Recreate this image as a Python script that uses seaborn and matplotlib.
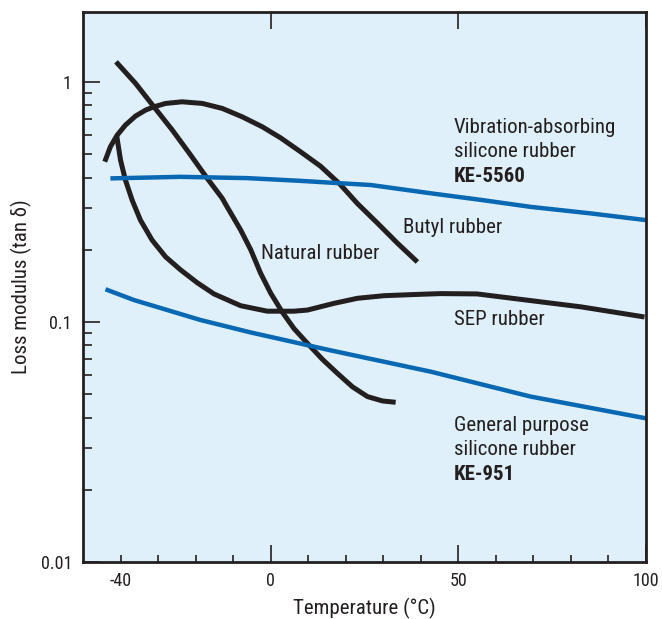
import os
import numpy as np
import pandas as pd
import seaborn as sns
import matplotlib
matplotlib.use("Agg")
import matplotlib.pyplot as plt
from matplotlib import font_manager
from matplotlib.ticker import FixedLocator, FuncFormatter, LogLocator, NullFormatter

# values: temperature (°C) and loss tangent
natural_t = [-41.2, -36.0, -31.1, -26.2, -21.3, -16.9, -12.9, -11.6, -8.0, -5.3, -2.7, 0.0, 3.1, 6.2,
             9.8, 13.8, 17.8, 21.8, 25.8, 29.8, 33.3]
natural_v = [1.215, 0.988, 0.789, 0.631, 0.496, 0.397, 0.328, 0.302, 0.242, 0.200, 0.160, 0.132, 0.110, 0.094,
             0.0815, 0.0699, 0.0611, 0.0537, 0.0489, 0.0469, 0.0463]

butyl_t = [-44.2, -42.7, -40.9, -38.7, -36.0, -33.3, -31.1, -28.0, -23.6, -18.2, -12.9, -7.6, -2.2,
           2.7, 8.0, 13.3, 18.5, 23.1, 28.5, 33.8, 39.1]
butyl_v = [0.466, 0.538, 0.601, 0.662, 0.722, 0.765, 0.789, 0.815, 0.828, 0.815, 0.777, 0.717, 0.651,
           0.585, 0.512, 0.446, 0.375, 0.312, 0.258, 0.213, 0.178]

sep_t = [-41.0, -40.0, -38.7, -36.9, -34.7, -31.6, -28.0, -24.0, -19.6, -15.1, -8.0, -0.9, 6.2, 9.8,
         16.9, 23.1, 30.2, 39.1, 45.3, 55.0, 64.9, 82.7, 99.6]
sep_v = [0.595, 0.473, 0.391, 0.322, 0.266, 0.2197, 0.187, 0.165, 0.146, 0.131, 0.117, 0.111, 0.111, 0.1122,
         0.1197, 0.1256, 0.1288, 0.1304, 0.1314, 0.131, 0.1253, 0.1157, 0.105]

ke5560_t = [-42.7, -24.0, -6.2, 7.6, 16.0, 26.7, 42.7, 56.0, 69.3, 85.0, 100.0]
ke5560_v = [0.397, 0.403, 0.398, 0.388, 0.381, 0.3725, 0.344, 0.323, 0.302, 0.284, 0.266]

ke951_t = [-44.0, -36.4, -18.7, -5.3, 16.0, 42.7, 69.3, 100.0]
ke951_v = [0.137, 0.1235, 0.102, 0.0905, 0.0762, 0.0621, 0.0489, 0.0397]

x_major = [0, 50, 100]
x_minor = [-40, -30, -20, -10, 10, 20, 30, 40, 60, 70, 80, 90]
y_major = [0.01, 0.1, 1]
y_labels = ["0.01", "0.1", "1"]

black = "#231f20"
blue = "#0868b3"
bg = "#dff0fa"

sns.set_style("ticks")


def pick_narrow_font():
    for fam in ["Liberation Sans Narrow", "Roboto Condensed", "Roboto", "Noto Sans", "Open Sans", "DejaVu Sans"]:
        try:
            path = font_manager.findfont(font_manager.FontProperties(family=fam, stretch="condensed"),
                                         fallback_to_default=False)
        except Exception:
            continue
        base = os.path.basename(path).lower()
        if "narrow" in base or "condensed" in base:
            return font_manager.FontProperties(fname=path).get_name()
    return None


narrow = pick_narrow_font()
if narrow:
    plt.rcParams["font.family"] = [narrow, "DejaVu Sans"]
    plt.rcParams["font.stretch"] = "condensed"
    fs, tfs = 15, 13
else:
    plt.rcParams["font.family"] = ["Liberation Sans", "DejaVu Sans"]
    fs, tfs = 14, 12.5
plt.rcParams["axes.unicode_minus"] = False
plt.rcParams["text.color"] = black

fig = plt.figure(figsize=(6.62, 6.19), dpi=100)
ax = fig.add_axes([83 / 662, 1 - 562 / 619, (646 - 83) / 662, (562 - 12) / 619])
ax.set_facecolor(bg)

curves = [
    (natural_t, natural_v, black, 3.6),
    (butyl_t, butyl_v, black, 3.6),
    (sep_t, sep_v, black, 3.6),
    (ke5560_t, ke5560_v, blue, 3.2),
    (ke951_t, ke951_v, blue, 3.2),
]
for t, v, c, lw in curves:
    df = pd.DataFrame({"temp": t, "tan_delta": v})
    sns.lineplot(data=df, x="temp", y="tan_delta", sort=False, estimator=None,
                 color=c, linewidth=lw, solid_capstyle="butt", solid_joinstyle="round", ax=ax)

ax.set_yscale("log")
ax.set_xlim(-50, 100)
ax.set_ylim(0.01, 1.96)

ax.xaxis.set_major_locator(FixedLocator(x_major))
ax.xaxis.set_minor_locator(FixedLocator(x_minor))
ax.xaxis.set_major_formatter(FuncFormatter(lambda v, p: f"{v:g}"))
ax.xaxis.set_minor_formatter(FuncFormatter(lambda v, p: "-40" if v == -40 else ""))
ax.yaxis.set_major_locator(FixedLocator(y_major))
ax.yaxis.set_major_formatter(FuncFormatter(lambda v, p: y_labels[y_major.index(v)] if v in y_major else ""))
ax.yaxis.set_minor_locator(LogLocator(base=10, subs=np.arange(2, 10)))
ax.yaxis.set_minor_formatter(NullFormatter())

ax.tick_params(axis="x", which="major", direction="in", length=12, width=1.2, color=black,
               top=True, labelsize=tfs, pad=7, labelcolor=black)
ax.tick_params(axis="x", which="minor", direction="in", length=5, width=1.2, color=black,
               top=False, labelsize=tfs, pad=7, labelcolor=black)
ax.tick_params(axis="y", which="major", direction="in", length=12, width=1.2, color=black,
               right=False, labelsize=tfs, pad=8, labelcolor=black)
ax.tick_params(axis="y", which="minor", direction="in", length=6.5, width=1.2, color=black, right=False)

for s in ax.spines.values():
    s.set_linewidth(2)
    s.set_color(black)

ax.set_xlabel("Temperature (°C)", fontsize=fs, labelpad=6, color=black)
ax.set_ylabel("Loss modulus (tan δ)", fontsize=fs, labelpad=6, color=black)

ax.text(48.8, 0.611, "Vibration-absorbing", fontsize=fs, va="baseline")
ax.text(48.8, 0.486, "silicone rubber", fontsize=fs, va="baseline")
ax.text(48.8, 0.384, "KE-5560", fontsize=fs, va="baseline", fontweight="bold")
ax.text(35.2, 0.234, "Butyl rubber", fontsize=fs, va="baseline")
ax.text(-2.7, 0.1825, "Natural rubber", fontsize=fs, va="baseline")
ax.text(48.8, 0.0971, "SEP rubber", fontsize=fs, va="baseline")
ax.text(48.8, 0.0351, "General purpose", fontsize=fs, va="baseline")
ax.text(48.8, 0.0279, "silicone rubber", fontsize=fs, va="baseline")
ax.text(48.8, 0.0220, "KE-951", fontsize=fs, va="baseline", fontweight="bold")

fig.savefig("out.png", dpi=100)
